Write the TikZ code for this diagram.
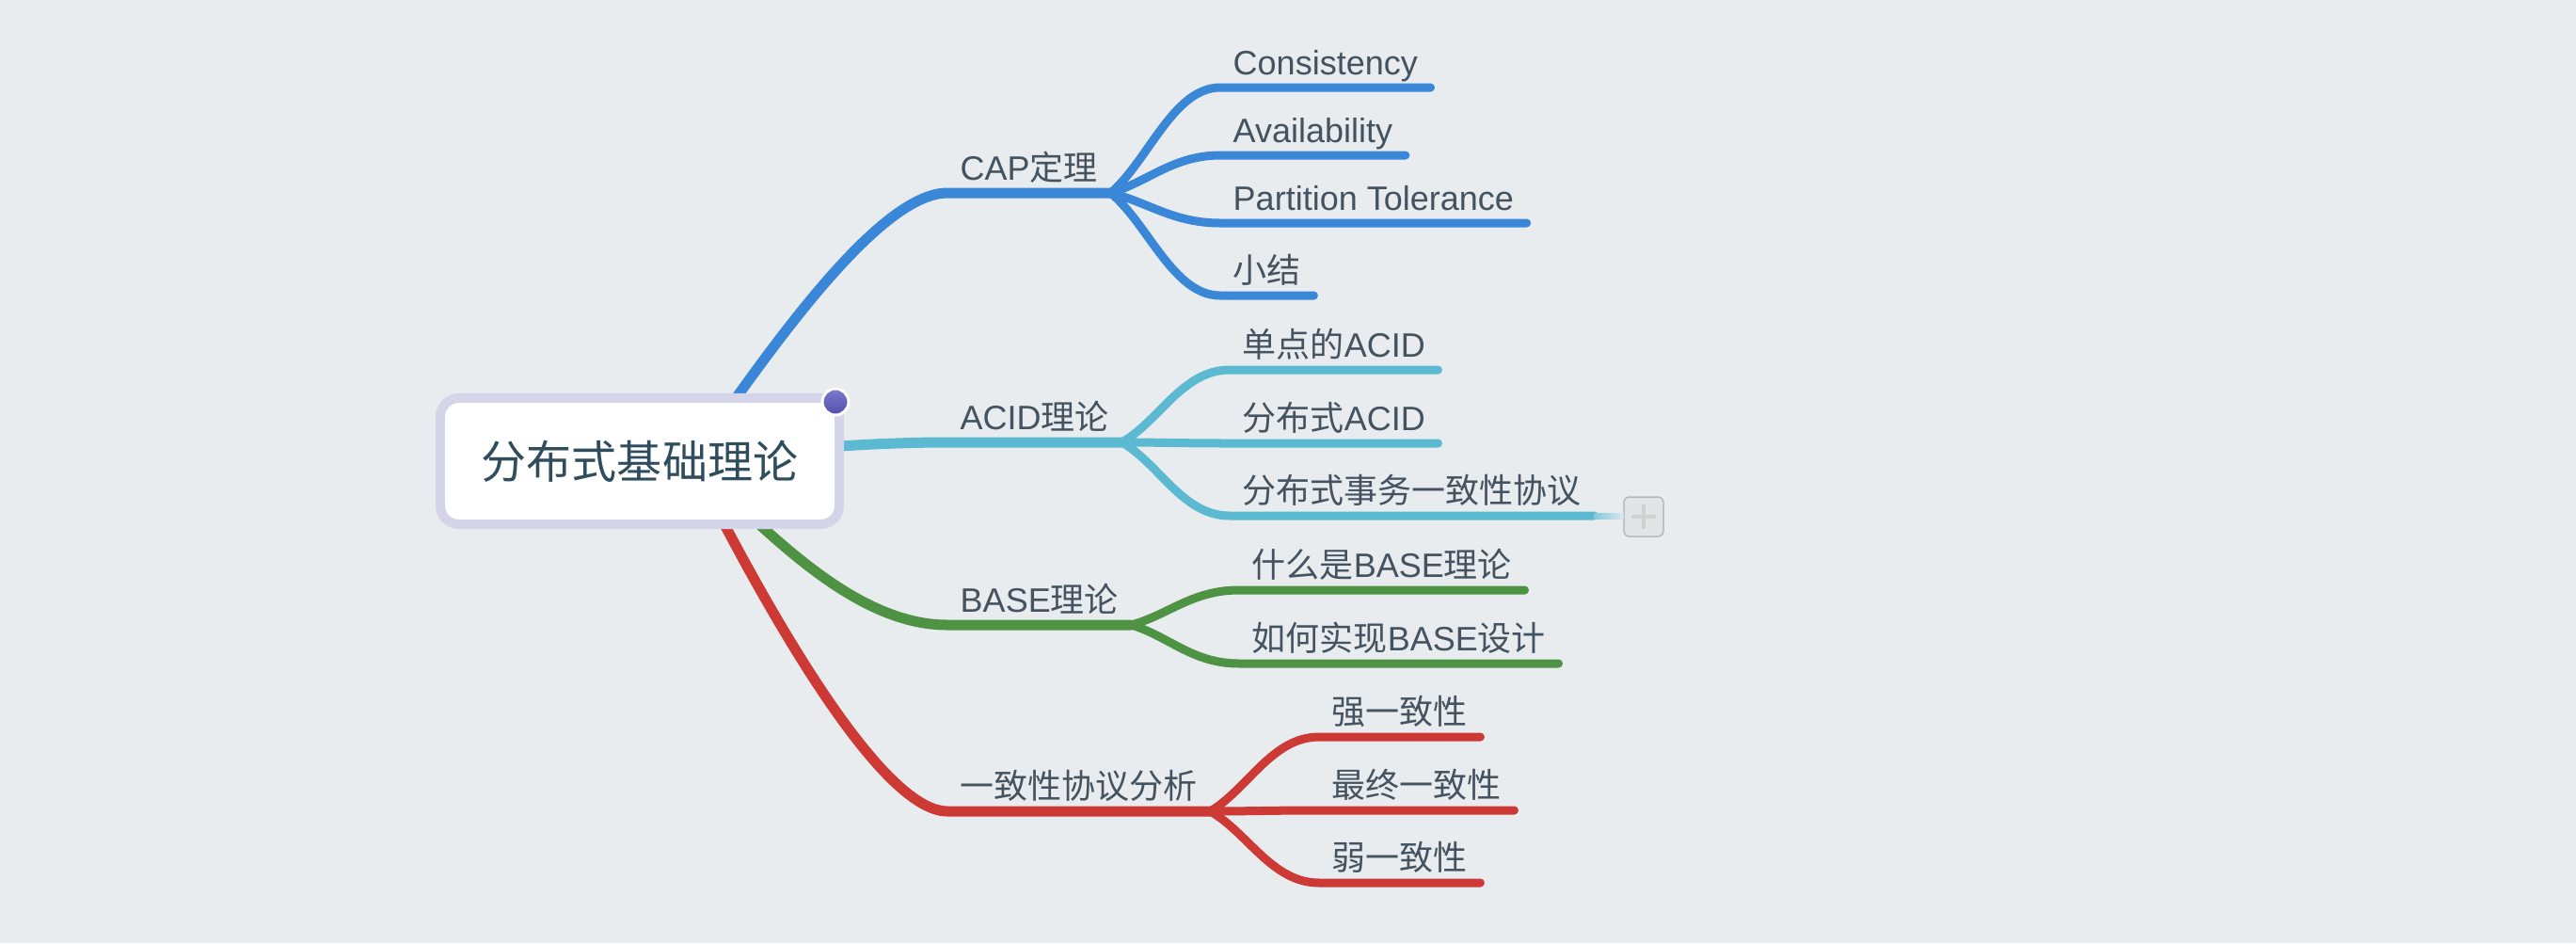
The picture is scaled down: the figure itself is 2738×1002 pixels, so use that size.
\documentclass[tikz,border=0pt]{standalone}
\usepackage{fontspec}
\setmainfont{Liberation Sans}
\newfontfamily\cjk{Noto Sans CJK SC}
\usepackage{tikz}

\definecolor{bgc}{HTML}{E8ECEF}
\definecolor{txt}{HTML}{44535F}
\definecolor{roottxt}{HTML}{2F4D5C}
\definecolor{rootline}{HTML}{D4D5E9}
\definecolor{capc}{HTML}{3A87D8}
\definecolor{acidc}{HTML}{5BB9D2}
\definecolor{basec}{HTML}{4E9244}
\definecolor{anac}{HTML}{CD3934}
\definecolor{dottop}{HTML}{7B79D0}
\definecolor{dotbot}{HTML}{5250A8}

\tikzset{
  topic/.style={anchor=south west, inner xsep=0.13cm, inner ysep=0pt,
    text depth=0.13cm, text height=0.27cm, text=txt,
    font=\fontsize{10.24pt}{12pt}\selectfont},
  main/.style={line width=0.11cm, line cap=round},
  sub/.style={line width=0.09cm, line cap=round},
}

\begin{document}
\begin{tikzpicture}[x=0.01cm,y=-0.01cm]
\fill[bgc] (0,0) rectangle (2738,1002);
\useasboundingbox (0,0) rectangle (2738,1002);
\coordinate (o) at (735,489);
% main topics
\node[topic] (cap) at (1007,205) {CAP\cjk 定理};
\node[topic] (acid) at (1007,470) {ACID\cjk 理论};
\node[topic] (base) at (1007,664) {BASE\cjk 理论};
\node[topic] (ana) at (1007,862) {\cjk 一致性协议分析};
% CAP
\node[topic] (cons) at (1297,93) {Consistency};
\node[topic] (avai) at (1297,165) {Availability};
\node[topic] (part) at (1297,237) {Partition Tolerance};
\node[topic] (sum) at (1297,314) {\cjk 小结};
% ACID
\node[topic] (single) at (1307,393) {\cjk 单点的\rmfamily ACID};
\node[topic] (dist) at (1307,471) {\cjk 分布式\rmfamily ACID};
\node[topic] (proto) at (1307,548) {\cjk 分布式事务一致性协议};
% BASE
\node[topic] (what) at (1317,627) {\cjk 什么是\rmfamily BASE\cjk 理论};
\node[topic] (how) at (1317,705) {\cjk 如何实现\rmfamily BASE\cjk 设计};
% consistency
\node[topic] (strong) at (1402,783) {\cjk 强一致性};
\node[topic] (final) at (1402,861) {\cjk 最终一致性};
\node[topic] (weak) at (1402,938) {\cjk 弱一致性};

\draw[main,capc] (o) .. controls +(60,-82) and +(-80,0) .. (cap.south west) -- (cap.south east);
\draw[main,acidc] (o) .. controls +(100,-12) and +(-80,0) .. (acid.south west) -- (acid.south east);
\draw[main,basec] (o) .. controls +(80,75) and +(-100,0) .. (base.south west) -- (base.south east);
\draw[main,anac] (o) .. controls +(50,100) and +(-80,0) .. (ana.south west) -- (ana.south east);

\draw[sub,capc] (cap.south east) .. controls +(40,-34) and +(-50,0) .. (cons.south west) -- (cons.south east);
\draw[sub,capc] (cap.south east) .. controls +(40,-12) and +(-50,0) .. (avai.south west) -- (avai.south east);
\draw[sub,capc] (cap.south east) .. controls +(40,10) and +(-50,0) .. (part.south west) -- (part.south east);
\draw[sub,capc] (cap.south east) .. controls +(40,33) and +(-50,0) .. (sum.south west) -- (sum.south east);

\draw[sub,acidc] (acid.south east) .. controls +(40,-23) and +(-50,0) .. (single.south west) -- (single.south east);
\draw[sub,acidc] (acid.south east) .. controls +(40,0) and +(-50,0) .. (dist.south west) -- (dist.south east);
\draw[sub,acidc] (acid.south east) .. controls +(40,23) and +(-50,0) .. (proto.south west) -- (proto.south east);

\draw[sub,basec] (base.south east) .. controls +(40,-11) and +(-50,0) .. (what.south west) -- (what.south east);
\draw[sub,basec] (base.south east) .. controls +(40,12) and +(-50,0) .. (how.south west) -- (how.south east);

\draw[sub,anac] (ana.south east) .. controls +(40,-24) and +(-50,0) .. (strong.south west) -- (strong.south east);
\draw[sub,anac] (ana.south east) .. controls +(40,0) and +(-50,0) .. (final.south west) -- (final.south east);
\draw[sub,anac] (ana.south east) .. controls +(40,23) and +(-50,0) .. (weak.south west) -- (weak.south east);

% collapsed marker
\node[draw=black!28, fill=black!3!bgc, line width=0.015cm, rounded corners=0.06cm,
  minimum size=0.42cm, inner sep=0pt] (more) at (1747,549) {};
\shade[left color=acidc!70!bgc, right color=acidc!10!bgc] ([yshift=-0.035cm]proto.south east) rectangle ([yshift=0.035cm]more.west);
\draw[black!18, line width=0.04cm] ([xshift=-0.13cm]more.center) -- ([xshift=0.13cm]more.center);
\draw[black!18, line width=0.04cm] ([yshift=-0.13cm]more.center) -- ([yshift=0.13cm]more.center);

% root
\node[draw=rootline, line width=0.1cm, fill=white, rounded corners=0.2cm,
  minimum width=4.24cm, minimum height=1.34cm, text=roottxt,
  font=\fontsize{13.66pt}{16pt}\selectfont\cjk] (root) at (680,490) {分布式基础理论};
\node[circle, draw=white, line width=0.03cm, top color=dottop, bottom color=dotbot,
  minimum size=0.28cm, inner sep=0pt] (dot) at (888,427) {};
\end{tikzpicture}
\end{document}
